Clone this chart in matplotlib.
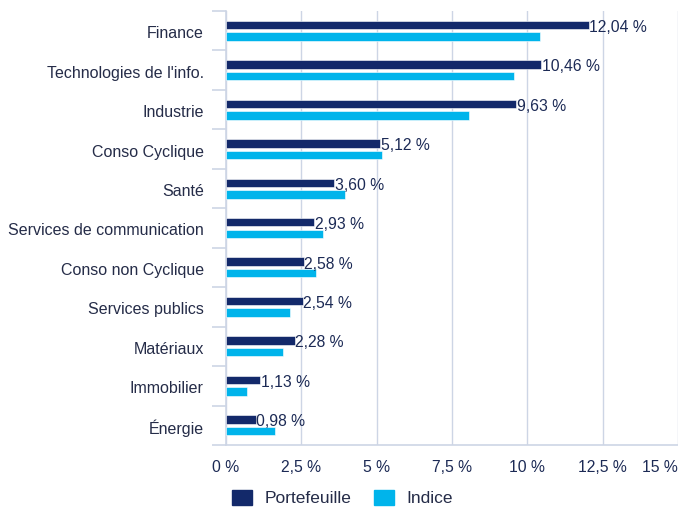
import matplotlib
matplotlib.use("Agg")
import matplotlib.pyplot as plt
from matplotlib.patches import Patch
import matplotlib.transforms as mtrans
import numpy as np

plt.rcParams['font.family'] = ['Liberation Sans', 'DejaVu Sans']

categories = ["Finance", "Technologies de l'info.", "Industrie", "Conso Cyclique", "Santé",
              "Services de communication", "Conso non Cyclique", "Services publics",
              "Matériaux", "Immobilier", "Énergie"]
portefeuille = [12.04, 10.46, 9.63, 5.12, 3.60, 2.93, 2.58, 2.54, 2.28, 1.13, 0.98]
indice = [10.43, 9.57, 8.05, 5.17, 3.94, 3.22, 2.98, 2.12, 1.88, 0.69, 1.64]
xticks = [0, 2.5, 5, 7.5, 10, 12.5, 15]
xticklabels = ["0 %", "2,5 %", "5 %", "7,5 %", "10 %", "12,5 %", "15 %"]

dark = "#13296a"
light = "#00b4eb"
grid_c = "#cdd5e5"
text_c = "#1c2a55"

fig = plt.figure(figsize=(6.78, 5.09), dpi=100)
ax = fig.add_axes([226/678, 1-445/509, (678-226)/678, (445-11)/509])

y = np.arange(len(categories))
off = 0.146
h = 0.215
ax.barh(y - off, portefeuille, height=h, color=dark, edgecolor="white", linewidth=0.4, zorder=3)
ax.barh(y + off, indice, height=h, color=light, edgecolor="white", linewidth=0.4, zorder=3)

for yi, v in zip(y, portefeuille):
    ax.text(v + 0.02, yi - off + 0.06, f"{v:.2f} %".replace(".", ","), ha="left", va="center",
            fontsize=11.3, color=text_c, zorder=4)

ax.set_ylim(len(categories) - 0.5, -0.5)
ax.set_xlim(0, 15)
ax.set_yticks(y)
ax.set_yticklabels(categories, fontsize=11.5, color="#252c48")
ax.set_yticks(np.arange(-0.5, len(categories), 1), minor=True)
ax.tick_params(axis="y", which="major", length=0, pad=16)
ax.tick_params(axis="y", which="minor", length=10, color=grid_c, width=1.2)
shift = mtrans.ScaledTranslation(0, -1.5/100, fig.dpi_scale_trans)
for lab in ax.get_yticklabels():
    lab.set_transform(lab.get_transform() + shift)

ax.set_xticks(xticks)
ax.set_xticklabels(xticklabels, fontsize=11.3, color=text_c)
ax.tick_params(axis="x", length=0, pad=11)
labs = ax.get_xticklabels()
labs[-1].set_ha("right")

ax.grid(axis="x", color=grid_c, linewidth=1, zorder=0)
for s in ["top", "right"]:
    ax.spines[s].set_visible(False)
ax.spines["left"].set_color(grid_c)
ax.spines["bottom"].set_color(grid_c)
ax.spines["left"].set_linewidth(1.2)
ax.spines["bottom"].set_linewidth(1.2)

handles = [Patch(color=dark, label="Portefeuille"), Patch(color=light, label="Indice")]
fig.legend(handles=handles, loc="center", bbox_to_anchor=(0.505, 1-498/509), ncol=2, frameon=False,
           fontsize=12.5, handlelength=1.15, handleheight=1.0, columnspacing=1.3, handletextpad=0.7,
           labelcolor="#252c48")

fig.savefig("out.png", dpi=100)
